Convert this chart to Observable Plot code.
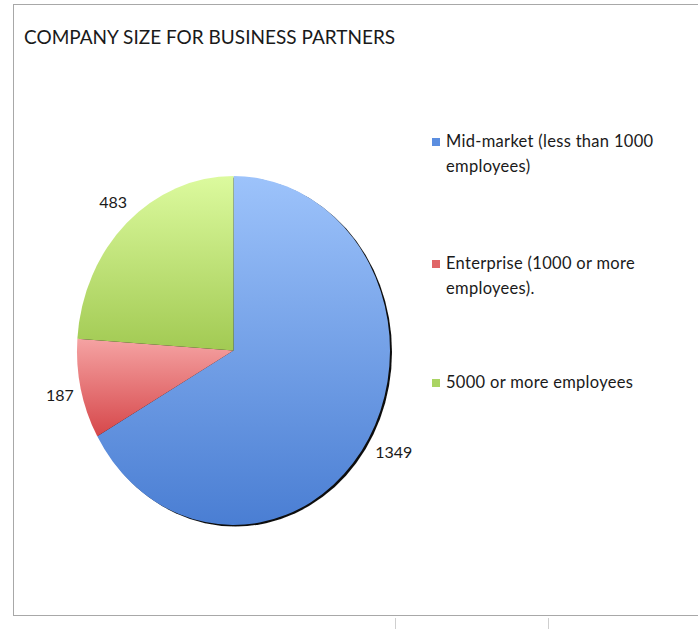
<!DOCTYPE html>
<html>
<head>
<meta charset="utf-8">
<script src="https://cdn.jsdelivr.net/npm/d3@7"></script>
<script src="https://cdn.jsdelivr.net/npm/@observablehq/plot@0.6"></script>
<style>
  html, body { margin: 0; padding: 0; background: #fff; }
  #wrap { position: relative; width: 698px; height: 629px; overflow: hidden; background: #fff; font-family: Lato, "Open Sans", sans-serif; color: #1a1a1a; }
  #frame { position: absolute; left: 13px; top: 4px; width: 700px; height: 612px; border: 1.5px solid #a8a8a8; box-sizing: border-box; }
  .grid { position: absolute; top: 618px; width: 1px; height: 12px; background: #cfcfcf; }
  #title { position: absolute; left: 24px; top: 25px; font-size: 19px; white-space: nowrap; letter-spacing: 0; }
  #chart { position: absolute; left: 0; top: 0; }
  .leg { position: absolute; left: 432px; font-size: 16.5px; line-height: 25px; }
  .leg .sw { position: absolute; left: 0; top: 9px; width: 8px; height: 8px; }
  .leg .tx { position: absolute; left: 14px; top: 0; white-space: nowrap; letter-spacing: 0.3px; }
</style>
</head>
<body>
<div id="wrap">
  <div id="frame"></div>
  <div class="grid" style="left:395px"></div>
  <div class="grid" style="left:548px"></div>
  <div id="title"></div>
  <div id="chart"></div>
  <div id="legend"></div>
</div>
<script>
// ---- data ----
const title = "COMPANY SIZE FOR BUSINESS PARTNERS";
const categories = [
  "Mid-market (less than 1000 employees)",
  "Enterprise (1000 or more employees).",
  "5000 or more employees"
];
const legendLines = [
  ["Mid-market (less than 1000", "employees)"],
  ["Enterprise (1000 or more", "employees)."],
  ["5000 or more employees"]
];
const values = [1349, 187, 483];
const topColors = ["#9dc3fb", "#f5a3a3", "#dcfa9e"];
const bottomColors = ["#4a7ed3", "#d6474a", "#a2ca53"];
const swatchColors = ["#5b8ee0", "#e06567", "#aad463"];

// ---- layout ----
const W = 698, H = 629;
const cx = 233.5, cy = 350.5, rx = 156.5, ry = 174.5;

document.getElementById("title").textContent = title;

const pie = d3.pie().sort(null).value(d => d.value);
const rows = categories.map((c, i) => ({category: c, value: values[i], i}));
const arcs = pie(rows);
const labelK = 1.16;
const labels = arcs.map(a => {
  const m = (a.startAngle + a.endAngle) / 2;
  return {x: labelK * Math.sin(m), y: -labelK * Math.cos(m), text: String(a.data.value)};
});

function pieSlices(index, scales) {
  const x = scales.x, y = scales.y;
  const X0 = x(0), Y0 = y(0), RX = x(1) - X0, RY = y(1) - Y0;
  const g = d3.create("svg:g");
  const defs = g.append("defs");
  arcs.forEach((a, i) => {
    const lg = defs.append("linearGradient").attr("id", "grad" + i)
      .attr("x1", 0).attr("y1", 0).attr("x2", 0).attr("y2", 1);
    lg.append("stop").attr("offset", "0%").attr("stop-color", topColors[i]);
    lg.append("stop").attr("offset", "100%").attr("stop-color", bottomColors[i]);
  });
  const f = defs.append("filter").attr("id", "shblur").attr("x", "-10%").attr("y", "-10%").attr("width", "120%").attr("height", "120%");
  f.append("feGaussianBlur").attr("stdDeviation", 0.7);
  g.append("ellipse").attr("cx", X0 + 2).attr("cy", Y0 + 1.5).attr("rx", RX).attr("ry", RY)
    .attr("fill", "#111").attr("filter", "url(#shblur)");
  const arc = d3.arc().innerRadius(0).outerRadius(RX);
  g.append("g").attr("transform", `translate(${X0},${Y0}) scale(1,${RY / RX})`)
    .selectAll("path").data(arcs).join("path")
    .attr("d", arc)
    .attr("fill", (d, i) => `url(#grad${i})`);
  return g.node();
}

const plot = Plot.plot({
  width: W, height: H, margin: 0,
  x: {domain: [-1, 1], range: [cx - rx, cx + rx], axis: null},
  y: {domain: [-1, 1], range: [cy - ry, cy + ry], axis: null},
  style: {background: "transparent", overflow: "visible"},
  marks: [
    pieSlices,
    Plot.text(labels, {x: "x", y: "y", text: "text", fontSize: 16, fill: "#1a1a1a",
      fontFamily: "Lato, 'Open Sans', sans-serif", textAnchor: "middle", dx: 3})
  ]
});
document.getElementById("chart").appendChild(plot);

// legend
const legendTops = [129, 251, 370];
const legend = document.getElementById("legend");
legendLines.forEach((lines, i) => {
  const d = document.createElement("div");
  d.className = "leg";
  d.style.top = legendTops[i] + "px";
  const sw = document.createElement("div");
  sw.className = "sw"; sw.style.background = swatchColors[i];
  d.appendChild(sw);
  lines.forEach((t, j) => {
    const s = document.createElement("div");
    s.className = "tx"; s.style.top = (j * 25) + "px"; s.textContent = t;
    d.appendChild(s);
  });
  legend.appendChild(d);
});
</script>
</body>
</html>
